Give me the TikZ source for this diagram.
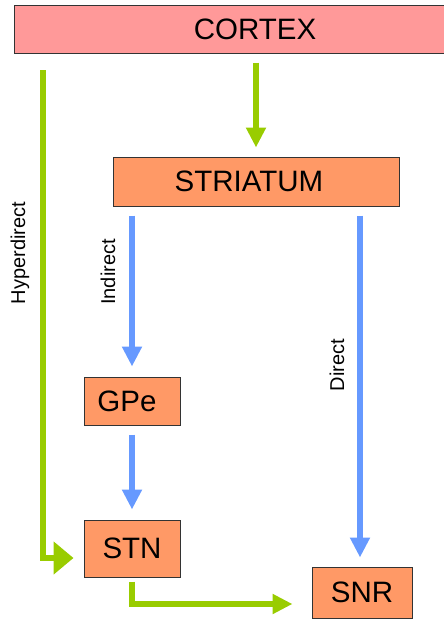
\documentclass[tikz,border=0pt]{standalone}
\usepackage{fontspec}
\setmainfont{Liberation Sans}
\usetikzlibrary{arrows.meta}
\definecolor{cortexfill}{HTML}{FF9999}
\definecolor{boxfill}{HTML}{FF9966}
\definecolor{ggreen}{HTML}{99CC00}
\definecolor{bblue}{HTML}{6699FF}
\definecolor{edge}{HTML}{333333}
\tikzset{
  region/.style={draw=edge, line width=1pt, fill=boxfill, rectangle, inner sep=0pt,
     font=\fontsize{29.5}{34}\selectfont},
  garrow/.style={draw=ggreen, line width=6.5pt, -{Triangle[width=19pt,length=20pt]}},
  gbig/.style={draw=ggreen, line width=6.5pt, -{Triangle[width=32pt,length=20pt]}},
  barrow/.style={draw=bblue, line width=6.5pt, -{Triangle[width=19pt,length=20pt]}},
  pathlabel/.style={rotate=90, font=\fontsize{20}{24}\selectfont, inner sep=0pt}
}
\begin{document}
\begin{tikzpicture}[x=1pt,y=-1pt]
\useasboundingbox (0,0) rectangle (444,619);
\node[region, fill=cortexfill, minimum width=482pt, minimum height=48pt] (cortex) at (255,29) {CORTEX};
\node[region, minimum width=286pt, minimum height=49pt] (striatum) at (256,181.5) {STRIATUM\kern14pt};
\node[region, minimum width=96pt, minimum height=48pt] (gpe) at (132,401) {GPe\kern10pt};
\node[region, minimum width=96pt, minimum height=57pt] (stn) at (132,548.5) {STN};
\node[region, minimum width=100pt, minimum height=51pt] (snr) at (362,592.5) {SNR};
\coordinate (hdtop) at (43,70);
% connectors
\draw[garrow, shorten <=9pt, shorten >=9pt] (striatum.north |- cortex.south) -- (striatum.north);
\draw[gbig, shorten >=10pt] (hdtop) |- ([yshift=-9.5pt]stn.west);
\draw[barrow, shorten <=9pt, shorten >=10pt] (gpe.north |- striatum.south) -- (gpe.north);
\draw[barrow, shorten <=9pt, shorten >=10pt] (gpe.south) -- (stn.north);
\draw[barrow, shorten <=9pt, shorten >=9pt] ([xshift=-2pt]snr.north |- striatum.south) -- ([xshift=-2pt]snr.north);
\draw[garrow, shorten <=4pt, shorten >=19pt] (stn.south) |- ([yshift=-11.5pt]snr.west);
% labels
\node[pathlabel] (lhyper) at (20,253) {Hyperdirect};
\node[pathlabel] (lind) at (108,272) {Indirect};
\node[pathlabel] (ldir) at (337,365) {Direct};
\end{tikzpicture}
\end{document}
